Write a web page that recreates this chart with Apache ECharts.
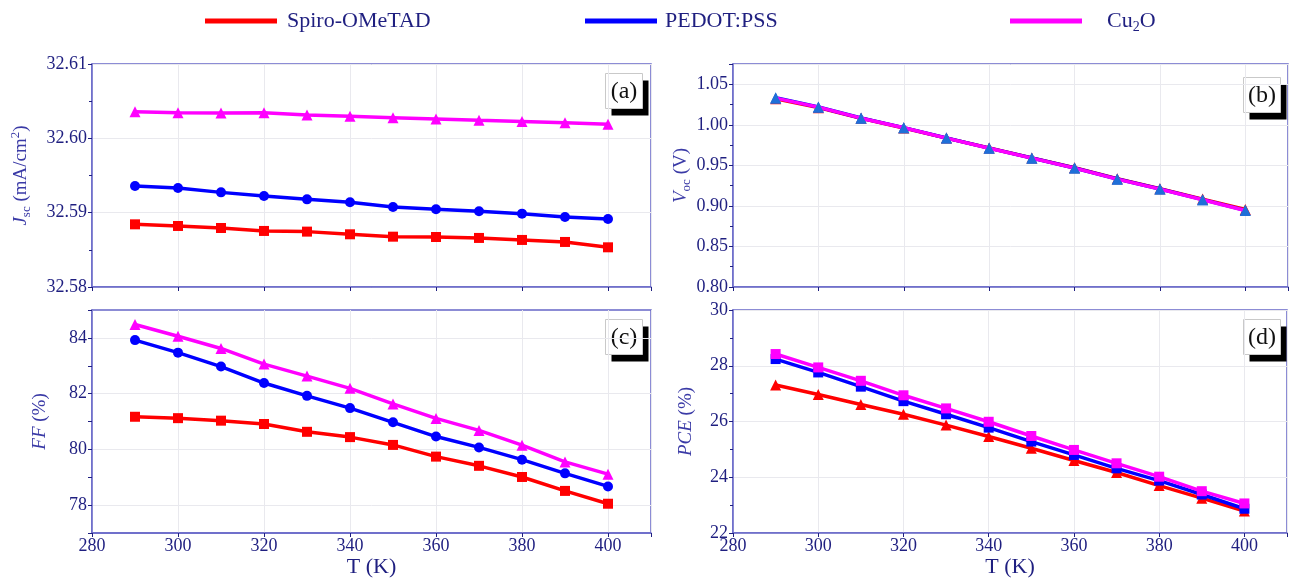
<!DOCTYPE html>
<html>
<head>
<meta charset="utf-8">
<script src="https://cdn.jsdelivr.net/npm/echarts@6/dist/echarts.min.js"></script>
<style>html,body{margin:0;padding:0;background:#fff}#c{width:1290px;height:579px}</style>
</head>
<body>
<div id="c"></div>
<script>
// ---- data ----
const temps = [290, 300, 310, 320, 330, 340, 350, 360, 370, 380, 390, 400];
const materials = ['Spiro-OMeTAD', 'PEDOT:PSS', 'Cu2O'];
const xTicks = [280, 300, 320, 340, 360, 380, 400];

const jscSpiro = [32.58843, 32.58821, 32.58794, 32.58754, 32.58745, 32.58709, 32.58677, 32.58673, 32.58660, 32.58633, 32.58606, 32.58534];
const jscPedot = [32.59358, 32.59331, 32.59273, 32.59224, 32.59179, 32.59139, 32.59076, 32.59045, 32.59018, 32.58987, 32.58942, 32.58915];
const jscCu2o  = [32.60358, 32.60345, 32.60340, 32.60345, 32.60313, 32.60296, 32.60278, 32.60260, 32.60242, 32.60228, 32.60210, 32.60188];

const vocSpiro = [1.0322, 1.0212, 1.0080, 0.9960, 0.9836, 0.9714, 0.9592, 0.9470, 0.9336, 0.9213, 0.9084, 0.8955];
const vocPedot = [1.0335, 1.0220, 1.0084, 0.9965, 0.9838, 0.9713, 0.9590, 0.9467, 0.9331, 0.9208, 0.9077, 0.8945];
const vocCu2o  = [1.0329, 1.0218, 1.0082, 0.9963, 0.9836, 0.9712, 0.9589, 0.9466, 0.9330, 0.9207, 0.9076, 0.8944];

const ffSpiro = [81.17, 81.12, 81.03, 80.91, 80.63, 80.44, 80.16, 79.74, 79.41, 79.01, 78.51, 78.05];
const ffPedot = [83.92, 83.47, 82.97, 82.38, 81.92, 81.48, 80.97, 80.46, 80.07, 79.63, 79.14, 78.67];
const ffCu2o  = [84.48, 84.06, 83.62, 83.06, 82.63, 82.19, 81.63, 81.11, 80.68, 80.15, 79.55, 79.11];

const pceSpiro = [27.31, 26.97, 26.61, 26.26, 25.87, 25.46, 25.04, 24.60, 24.17, 23.70, 23.25, 22.79];
const pcePedot = [28.24, 27.76, 27.25, 26.73, 26.26, 25.78, 25.28, 24.80, 24.32, 23.88, 23.38, 22.87];
const pceCu2o  = [28.42, 27.94, 27.46, 26.94, 26.47, 25.99, 25.48, 24.98, 24.50, 24.02, 23.50, 23.06];

const panelLabels = ['(a)', '(b)', '(c)', '(d)'];

// ---- styling / layout ----
const FONT = 'Liberation Serif';
const NAVY = '#1f1f80';
const NAME = '#3a3aa6';
const FRAME = '#6767c8';
const GRIDC = '#e9e9ee';
const colors = ['#ff0000', '#0000ff', '#ff00ff'];

const grids = [
  {left: 92, top: 64, width: 559, height: 223},
  {left: 733, top: 64, width: 555, height: 223},
  {left: 92, top: 310, width: 559, height: 223},
  {left: 733, top: 310, width: 555, height: 223}
];
// label box placement (x of box left, y of box top)
const boxPos = [[605, 73], [1243, 77], [605, 319], [1243, 319]];

const panels = [
  {data: [jscSpiro, jscPedot, jscCu2o], sym: ['rect', 'circle', 'triangle'], symColor: colors,
   min: 32.58, max: 32.61, interval: 0.01, dec: 2, step: 0.01,
   name: '{i|J}{sub|sc}{n| (mA/cm}{sup|2}{n|)}', nameGap: 59},
  {data: [vocSpiro, vocPedot, vocCu2o], sym: ['triangle', 'triangle', 'triangle'], symColor: ['#ff0000', '#1f6fd8', '#1f6fd8'],
   min: 0.80, max: 1.075, interval: 0.05, dec: 2, step: 0.05,
   name: '{i|V}{sub|oc}{n| (V)}', nameGap: 37},
  {data: [ffSpiro, ffPedot, ffCu2o], sym: ['rect', 'circle', 'triangle'], symColor: colors,
   min: 77, max: 85, interval: 1, dec: 0, step: 2, alt: true,
   name: '{i|FF}{n| (%)}', nameGap: 40},
  {data: [pceSpiro, pcePedot, pceCu2o], sym: ['triangle', 'rect', 'rect'], symColor: colors,
   min: 22, max: 30, interval: 2, dec: 0, step: 2,
   name: '{i|PCE}{n| (%)}', nameGap: 35}
];

const richName = {
  i: {fontFamily: FONT, fontSize: 19, fontStyle: 'italic', color: NAME, lineHeight: 24},
  n: {fontFamily: FONT, fontSize: 19, color: NAME, lineHeight: 24},
  sub: {fontFamily: FONT, fontSize: 13, color: NAME, verticalAlign: 'bottom', lineHeight: 24, padding: [8, 0, 0, 0]},
  sup: {fontFamily: FONT, fontSize: 13, color: NAME, verticalAlign: 'top', lineHeight: 24, padding: [0, 0, 8, 0]}
};

function isMult(v, step) { const r = v / step; return Math.abs(r - Math.round(r)) < 1e-6; }

const xAxes = [], yAxes = [], series = [], graphics = [];
panels.forEach((p, k) => {
  const bottom = k >= 2;
  xAxes.push({
    type: 'value', gridIndex: k, min: 280, max: 410, interval: 20,
    name: bottom ? 'T (K)' : '', nameLocation: 'middle', nameGap: 22,
    nameTextStyle: {fontFamily: FONT, fontSize: 22, color: NAVY},
    axisLine: {show: true, lineStyle: {color: FRAME, width: 1.5}},
    axisTick: {show: true, inside: false, length: 4, lineStyle: {color: NAVY}},
    axisLabel: {show: bottom, margin: 4, fontFamily: FONT, fontSize: 18, color: NAVY,
      formatter: v => (xTicks.indexOf(Math.round(v)) >= 0 ? String(Math.round(v)) : '')},
    splitLine: {show: true, lineStyle: {color: GRIDC, width: 1}}
  });
  yAxes.push({
    type: 'value', gridIndex: k, min: p.min, max: p.max, interval: p.interval,
    name: p.name, nameLocation: 'middle', nameGap: p.nameGap, nameRotate: 90,
    nameTextStyle: {fontFamily: FONT, fontSize: 19, color: NAME, rich: richName},
    axisLine: {show: true, lineStyle: {color: FRAME, width: 1.5}},
    axisTick: {show: true, inside: false, length: 4, lineStyle: {color: NAVY}},
    minorTick: {show: !p.alt, splitNumber: 2, length: 3, lineStyle: {color: NAVY}},
    axisLabel: {margin: 5, fontFamily: FONT, fontSize: 18, color: NAVY,
      formatter: v => (isMult(v, p.step) ? v.toFixed(p.dec) : '')},
    splitLine: {show: true, lineStyle: {color: p.alt ? ['rgba(0,0,0,0)', GRIDC] : GRIDC, width: 1}}
  });
  p.data.forEach((vals, m) => {
    series.push({
      type: 'line', name: materials[m], xAxisIndex: k, yAxisIndex: k,
      data: temps.map((t, i) => [t, vals[i]]),
      symbol: p.sym[m], symbolSize: p.sym[m] === 'triangle' ? 11 : 10,
      color: colors[m],
      itemStyle: {color: p.symColor[m]},
      lineStyle: {color: colors[m], width: 3.5},
      emphasis: {disabled: true},
      animation: false, z: 3 + m
    });
  });
  const [bx, by] = boxPos[k];
  const bw = 37, bh = 35;
  graphics.push({
    type: 'group', left: bx, top: by, z: 100,
    children: [
      {type: 'rect', shape: {x: 6, y: 7, width: bw, height: bh}, style: {fill: '#000'}},
      {type: 'rect', shape: {x: 0, y: 0, width: bw, height: bh}, style: {fill: '#fff', stroke: '#c9c9c9', lineWidth: 1}},
      {type: 'text', x: bw / 2, y: bh / 2 + 1,
       style: {text: panelLabels[k], fontFamily: FONT, fontSize: 24, fill: '#111', align: 'center', verticalAlign: 'middle'}}
    ]
  });
});

function mkLegend(name, left, gapPad) {
  return {
    data: [name], left: left, top: 5, icon: 'rect', itemWidth: 72, itemHeight: 5,
    selectedMode: false,
    textStyle: {fontFamily: FONT, fontSize: 22, color: NAVY, padding: [0, 0, 0, gapPad],
      rich: {n: {fontFamily: FONT, fontSize: 22, color: NAVY, lineHeight: 26},
             s: {fontFamily: FONT, fontSize: 14, color: NAVY, verticalAlign: 'bottom', lineHeight: 26, padding: [10, 0, 0, 0]}}},
    formatter: n => (n === 'Cu2O' ? '{n|Cu}{s|2}{n|O}' : n)
  };
}

const chart = echarts.init(document.getElementById('c'), null, {renderer: 'canvas'});
chart.setOption({
  backgroundColor: '#ffffff',
  animation: false,
  legend: [mkLegend('Spiro-OMeTAD', 200, 5), mkLegend('PEDOT:PSS', 580, 3), mkLegend('Cu2O', 1005, 20)],
  grid: grids.map(g => Object.assign({show: true, borderColor: FRAME, borderWidth: 1.5, backgroundColor: 'transparent'}, g)),
  xAxis: xAxes,
  yAxis: yAxes,
  series: series,
  graphic: graphics
});
</script>
</body>
</html>
